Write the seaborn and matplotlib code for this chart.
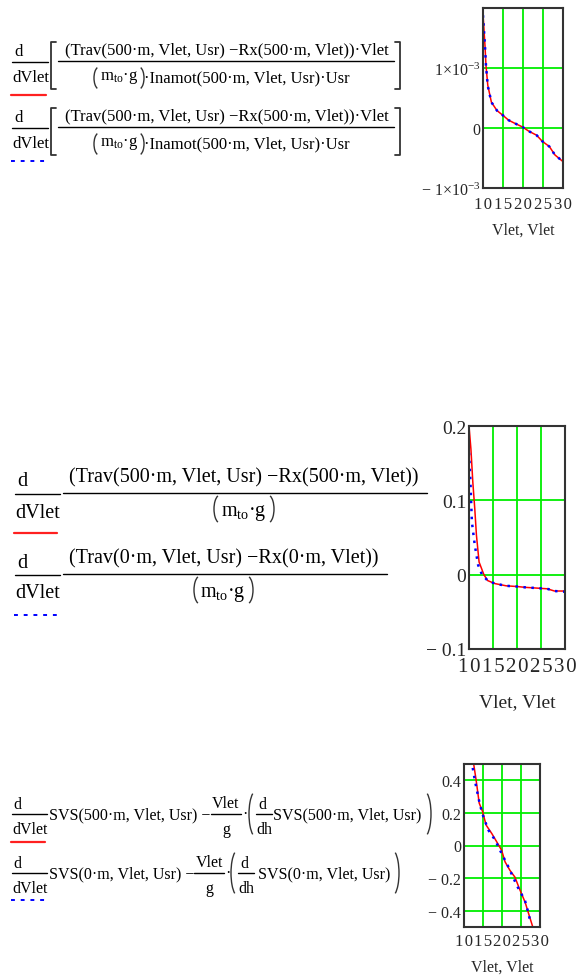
import numpy as np
import pandas as pd
import matplotlib
matplotlib.use('Agg')
import matplotlib.pyplot as plt
from matplotlib.lines import Line2D
from matplotlib.patches import Arc
import seaborn as sns

# values (x = Vlet)
v1_red = [10, 10.5, 10.75, 11.2, 12.1, 13.5, 15, 16.4, 18.2, 19.8, 21.5, 23.4, 24.8, 26.6, 28, 30]
y1_red = [1.9e-3, 1.37e-3, 1.04e-3, 0.71e-3, 0.43e-3, 0.29e-3, 0.21e-3, 0.13e-3, 0.07e-3,
          0.02e-3, -0.055e-3, -0.12e-3, -0.22e-3, -0.31e-3, -0.45e-3, -0.56e-3]
v1_blue = [10, 10.5, 10.75, 11.2, 12.1, 13.5, 15, 16.4, 18.2, 19.8, 21.5, 23.4, 24.8, 26.6, 28, 30]
y1_blue = [1.88e-3, 1.36e-3, 1.03e-3, 0.70e-3, 0.43e-3, 0.29e-3, 0.21e-3, 0.13e-3, 0.07e-3,
           0.02e-3, -0.055e-3, -0.12e-3, -0.22e-3, -0.31e-3, -0.45e-3, -0.56e-3]

v2_red = [10, 10.4, 10.8, 11.2, 11.55, 12.1, 13.1, 13.9, 15.4, 17.75, 20.1, 21.6, 24, 26.3, 27.8, 30]
y2_red = [0.2, 0.169, 0.124, 0.089, 0.053, 0.017, 0, -0.008, -0.012, -0.015, -0.016,
          -0.017, -0.018, -0.019, -0.022, -0.022]
v2_blue = [10, 10.25, 10.6, 11.2, 11.9, 12.7, 13.9, 15.4, 17.75, 20.1, 21.6, 24, 26.3, 27.8, 30]
y2_blue = [0.164, 0.133, 0.071, 0.04, 0.013, 0, -0.008, -0.012, -0.015, -0.016, -0.017,
           -0.018, -0.019, -0.022, -0.023]

v3_red = [12.5, 13.2, 14.0, 14.9, 15.8, 17.3, 18.6, 19.9, 20.8, 22.1, 23.4, 24.6, 26.1, 26.9, 28.1]
y3_red = [0.507, 0.4, 0.26, 0.208, 0.126, 0.074, 0.023, -0.029, -0.1, -0.153, -0.194,
          -0.266, -0.349, -0.41, -0.5]
v3_blue = [12.3, 12.9, 14.2, 15.1, 16.4, 18.2, 19.9, 21.7, 23.9, 26.05, 26.9, 27.5]
y3_blue = [0.476, 0.394, 0.249, 0.177, 0.095, 0.033, -0.049, -0.132, -0.245, -0.338, -0.41, -0.472]

xticks = [10, 15, 20, 25, 30]
y1_ticks = [-1e-3, 0, 1e-3]
y1_labels = ['\u2212 1\u00d7$10^{-3}$', '0', '1\u00d7$10^{-3}$']
y2_ticks = [-0.1, 0, 0.1, 0.2]
y2_labels = ['\u2212 0.1', '0', '0.1', '0.2']
y3_ticks = [-0.4, -0.2, 0, 0.2, 0.4]
y3_labels = ['\u2212 0.4', '\u2212 0.2', '0', '0.2', '0.4']

sns.set_style('white')
plt.rcParams['font.family'] = ['Liberation Serif', 'DejaVu Serif']
plt.rcParams['mathtext.fontset'] = 'custom'
plt.rcParams['mathtext.rm'] = 'Liberation Serif'
plt.rcParams['mathtext.it'] = 'Liberation Serif:italic'
plt.rcParams['mathtext.bf'] = 'Liberation Serif:bold'

W, H = 584, 979
fig = plt.figure(figsize=(W / 100, H / 100), dpi=100)

MTO = '$\\mathrm{m_{to}}$\u00b7g'


def fx(x):
    return x / W


def fy(y):
    return 1 - y / H


def put(x, y, s, size, ha='left'):
    fig.text(fx(x), fy(y), s, fontsize=size, ha=ha, va='center', color='black')


def hline(x0, x1, y, color='black', lw=1.0, ls='-'):
    fig.add_artist(Line2D([fx(x0), fx(x1)], [fy(y), fy(y)], transform=fig.transFigure,
                          color=color, lw=lw, linestyle=ls))


def bracket(x, y0, y1, side):
    d = 5 if side == 'left' else -5
    fig.add_artist(Line2D([fx(x + d), fx(x), fx(x), fx(x + d)], [fy(y0), fy(y0), fy(y1), fy(y1)],
                          transform=fig.transFigure, color='#333333', lw=1.3))


def paren(x, yc, h, side, w=14, lw=1.0):
    t1, t2 = (105, 255) if side == 'left' else (-75, 75)
    cx = x + w / 2 - 1 if side == 'left' else x - w / 2 + 1
    fig.add_artist(Arc((fx(cx), fy(yc)), w / W, h / H, theta1=t1, theta2=t2,
                       transform=fig.transFigure, color='#333333', lw=lw))


def legend_lines(x0, x1, y_red, y_blue):
    hline(x0, x1, y_red, color='#ff2020', lw=1.6)
    hline(x0, x1, y_blue, color='blue', lw=1.4, ls=(0, (2, 3)))


def spaced(n):
    return '\u200a'.join(str(n))


def draw_plot(box, xr, yr, xb, yb, ylim, yticks, ylabels, fs, xfs, xpad, labelpad):
    x0, y0, x1, y1 = box
    ax = fig.add_axes([fx(x0), fy(y1), (x1 - x0) / W, (y1 - y0) / H])
    sns.lineplot(x=xr, y=yr, ax=ax, color='red', lw=1.1, sort=False)
    sns.lineplot(x=xb, y=yb, ax=ax, color='blue', lw=1.8, linestyle=(0, (1, 2.2)), sort=False)
    ax.set_xlim(10, 30)
    ax.set_ylim(*ylim)
    ax.set_xticks(xticks)
    ax.set_xticklabels([spaced(t) for t in xticks], fontsize=xfs)
    ax.set_yticks(yticks)
    ax.set_yticklabels(ylabels, fontsize=fs)
    ax.grid(True, color='#00ee00', lw=1.3)
    ax.set_axisbelow(True)
    ax.tick_params(length=0, pad=2)
    ax.tick_params(axis='x', pad=xpad)
    for s in ax.spines.values():
        s.set_color('#333333')
        s.set_linewidth(1.5)
    ax.set_xlabel('Vlet, Vlet', fontsize=fs, labelpad=labelpad)
    ax.set_ylabel('')
    return ax


# ---- block 1 ----
num1 = '(Trav(500\u00b7m, Vlet, Usr) \u2212Rx(500\u00b7m, Vlet))\u00b7Vlet'
den1 = '\u00b7Inamot(500\u00b7m, Vlet, Usr)\u00b7Usr'
for off in [0, 66]:
    put(14, 52 + off, 'd', 12)
    hline(12, 48, 63 + off)
    put(12, 78 + off, 'dVlet', 12)
    bracket(51, 43 + off, 90 + off, 'left')
    bracket(400, 43 + off, 90 + off, 'right')
    put(227, 50 + off, num1, 12, ha='center')
    hline(58, 394, 62 + off)
    paren(95, 79 + off, 22, 'left', w=10)
    put(119, 78 + off, MTO, 12, ha='center')
    paren(143, 79 + off, 22, 'right', w=10)
    put(144, 78 + off, den1, 12)
legend_lines(11, 46, 96, 162)

draw_plot((483, 9, 563, 189), v1_red, y1_red, v1_blue, y1_blue, (-1e-3, 2e-3),
          y1_ticks, y1_labels, 11.5, 12, 5.5, 7)

# ---- block 2 ----
put(17, 482, 'd', 14.5)
hline(15, 60, 495)
put(15, 513, 'dVlet', 14.5)
put(244, 478, '(Trav(500\u00b7m, Vlet, Usr) \u2212Rx(500\u00b7m, Vlet))', 14.5, ha='center')
hline(63, 427, 494)
paren(215, 510, 28, 'left', w=12)
put(244, 513, MTO, 14.5, ha='center')
paren(273, 510, 28, 'right', w=12)
put(17, 563, 'd', 14.5)
hline(15, 60, 576)
put(15, 594, 'dVlet', 14.5)
put(224, 559, '(Trav(0\u00b7m, Vlet, Usr) \u2212Rx(0\u00b7m, Vlet))', 14.5, ha='center')
hline(63, 387, 575)
paren(195, 591, 28, 'left', w=12)
put(223, 594, MTO, 14.5, ha='center')
paren(252, 591, 28, 'right', w=12)
legend_lines(14, 57, 534, 616)

draw_plot((469, 427, 565, 650), v2_red, y2_red, v2_blue, y2_blue, (-0.1, 0.2),
          y2_ticks, y2_labels, 14, 15, 6, 12)

# ---- block 3 ----
rows3 = [(0, '500', 197, 250, 273, 430), (59, '0', 180, 232, 258, 398)]
for off, h, end1, px, x2, px2 in rows3:
    put(13, 805 + off, 'd', 11.5)
    hline(12, 47, 815 + off)
    put(12, 830 + off, 'dVlet', 11.5)
    put(49, 815 + off, 'SVS(%s\u00b7m, Vlet, Usr) \u2212' % h, 11.5)
    xc = end1 + 29
    put(xc, 804 + off, 'Vlet', 11.5, ha='center')
    hline(xc - 15, xc + 15, 815 + off)
    put(xc, 830 + off, 'g', 11.5, ha='center')
    put(xc + 16, 815 + off, '\u00b7', 11.5)
    paren(px, 815 + off, 46, 'left')
    put(px + 12, 805 + off, 'd', 11.5, ha='center')
    hline(px + 6, px + 22, 815 + off)
    put(px + 6, 830 + off, 'dh', 11.5)
    put(x2, 815 + off, 'SVS(%s\u00b7m, Vlet, Usr)' % h, 11.5)
    paren(px2, 815 + off, 46, 'right')
legend_lines(11, 45, 843, 901)

draw_plot((464, 765, 540, 928), v3_red, y3_red, v3_blue, y3_blue, (-0.5, 0.5),
          y3_ticks, y3_labels, 11.5, 12, 4, 7)

fig.savefig('out.png', dpi=100, facecolor='white')
